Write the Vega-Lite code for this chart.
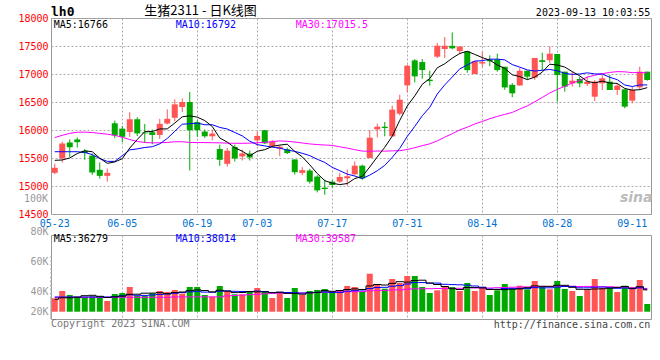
{
  "$schema": "https://vega.github.io/schema/vega-lite/v6.json",
  "autosize": {"type": "pad"},
  "padding": {"left": 17, "top": 4, "right": 10, "bottom": 31},
  "background": "#ffffff",
  "config": {
    "view": {"stroke": "#999999", "strokeWidth": 1},
    "axis": {"labelFont": "DejaVu Sans Mono", "labelFontSize": 10, "labelOverlap": false},
    "text": {"font": "DejaVu Sans Mono", "fontSize": 10}
  },
  "datasets": {
    "k": [
      {"d":"05-23","o":15235,"h":15397,"l":15211,"c":15325,"v":33400,"m5":15458,"m10":15612,"m30":15865,"vm5":32400,"vm10":34700,"vm30":34400},
      {"d":"05-24","o":15494,"h":15795,"l":15421,"c":15759,"v":40700,"m5":15465,"m10":15612,"m30":15905,"vm5":33900,"vm10":34700,"vm30":34400},
      {"d":"05-25","o":15777,"h":15831,"l":15518,"c":15692,"v":36700,"m5":15500,"m10":15612,"m30":15940,"vm5":33900,"vm10":34700,"vm30":34400},
      {"d":"05-26","o":15831,"h":15867,"l":15686,"c":15783,"v":34700,"m5":15580,"m10":15612,"m30":15960,"vm5":34500,"vm10":34700,"vm30":34400},
      {"d":"05-29","o":15628,"h":15658,"l":15468,"c":15587,"v":34700,"m5":15629,"m10":15600,"m30":15962,"vm5":36000,"vm10":34700,"vm30":34400},
      {"d":"05-30","o":15542,"h":15578,"l":15199,"c":15241,"v":35400,"m5":15612,"m10":15560,"m30":15955,"vm5":36400,"vm10":34700,"vm30":34400},
      {"d":"05-31","o":15289,"h":15421,"l":15132,"c":15181,"v":35400,"m5":15497,"m10":15490,"m30":15940,"vm5":35400,"vm10":34700,"vm30":34400},
      {"d":"06-01","o":15181,"h":15313,"l":15078,"c":15235,"v":30700,"m5":15405,"m10":15440,"m30":15925,"vm5":34200,"vm10":34700,"vm30":34400},
      {"d":"06-02","o":16120,"h":16168,"l":15855,"c":15903,"v":37700,"m5":15429,"m10":15440,"m30":15905,"vm5":34800,"vm10":35000,"vm30":34400},
      {"d":"06-05","o":16024,"h":16072,"l":15783,"c":15879,"v":38700,"m5":15488,"m10":15540,"m30":15870,"vm5":35600,"vm10":35800,"vm30":34400},
      {"d":"06-06","o":15963,"h":16318,"l":15879,"c":16192,"v":44700,"m5":15678,"m10":15645,"m30":15830,"vm5":37400,"vm10":36900,"vm30":34400},
      {"d":"06-07","o":16192,"h":16228,"l":15891,"c":15939,"v":35700,"m5":15830,"m10":15663,"m30":15795,"vm5":37500,"vm10":36400,"vm30":34400},
      {"d":"06-08","o":15954,"h":16108,"l":15770,"c":15940,"v":35700,"m5":15971,"m10":15688,"m30":15778,"vm5":38500,"vm10":36300,"vm30":34400},
      {"d":"06-09","o":15960,"h":16008,"l":15744,"c":15912,"v":38400,"m5":15972,"m10":15701,"m30":15770,"vm5":38600,"vm10":36700,"vm30":34400},
      {"d":"06-12","o":15912,"h":16200,"l":15840,"c":16110,"v":40700,"m5":16019,"m10":15753,"m30":15772,"vm5":39000,"vm10":37300,"vm30":34400},
      {"d":"06-13","o":16116,"h":16368,"l":16100,"c":16200,"v":39700,"m5":16020,"m10":15849,"m30":15778,"vm5":38000,"vm10":37700,"vm30":34400},
      {"d":"06-14","o":16218,"h":16548,"l":16158,"c":16458,"v":41700,"m5":16124,"m10":15977,"m30":15790,"vm5":39200,"vm10":38400,"vm30":34800},
      {"d":"06-15","o":16410,"h":16560,"l":16320,"c":16500,"v":38000,"m5":16236,"m10":16103,"m30":15790,"vm5":39700,"vm10":39100,"vm30":34800},
      {"d":"06-16","o":16500,"h":16680,"l":15276,"c":15996,"v":44700,"m5":16253,"m10":16113,"m30":15778,"vm5":41000,"vm10":39800,"vm30":34800},
      {"d":"06-19","o":16140,"h":16176,"l":15876,"c":15996,"v":44700,"m5":16230,"m10":16124,"m30":15776,"vm5":41800,"vm10":40400,"vm30":34800},
      {"d":"06-20","o":15972,"h":16008,"l":15858,"c":15888,"v":36700,"m5":16168,"m10":16094,"m30":15775,"vm5":41200,"vm10":39600,"vm30":34800},
      {"d":"06-21","o":15888,"h":16008,"l":15816,"c":15936,"v":35000,"m5":16063,"m10":16094,"m30":15773,"vm5":39800,"vm10":39500,"vm30":34800},
      {"d":"06-26","o":15660,"h":15738,"l":15360,"c":15468,"v":45700,"m5":15857,"m10":16046,"m30":15770,"vm5":41400,"vm10":40500,"vm30":34800},
      {"d":"06-27","o":15396,"h":15678,"l":15348,"c":15630,"v":40700,"m5":15784,"m10":16018,"m30":15765,"vm5":40600,"vm10":40800,"vm30":35800},
      {"d":"06-28","o":15696,"h":15738,"l":15438,"c":15492,"v":37400,"m5":15683,"m10":15956,"m30":15762,"vm5":39100,"vm10":40400,"vm30":36200},
      {"d":"06-29","o":15528,"h":15648,"l":15456,"c":15582,"v":37400,"m5":15622,"m10":15895,"m30":15762,"vm5":39200,"vm10":40200,"vm30":36600},
      {"d":"06-30","o":15580,"h":15633,"l":15455,"c":15509,"v":39700,"m5":15536,"m10":15800,"m30":15765,"vm5":40200,"vm10":40000,"vm30":37000},
      {"d":"07-03","o":15816,"h":15966,"l":15714,"c":15894,"v":43700,"m5":15621,"m10":15739,"m30":15772,"vm5":39800,"vm10":40600,"vm30":37400},
      {"d":"07-04","o":15996,"h":16000,"l":15750,"c":15762,"v":40700,"m5":15648,"m10":15716,"m30":15780,"vm5":39800,"vm10":40200,"vm30":37900},
      {"d":"07-05","o":15714,"h":15822,"l":15684,"c":15786,"v":33700,"m5":15707,"m10":15695,"m30":15792,"vm5":39000,"vm10":39100,"vm30":38400},
      {"d":"07-06","o":15666,"h":15726,"l":15534,"c":15702,"v":39700,"m5":15731,"m10":15676,"m30":15805,"vm5":39500,"vm10":39400,"vm30":38600},
      {"d":"07-07","o":15654,"h":15684,"l":15570,"c":15588,"v":33700,"m5":15746,"m10":15641,"m30":15799,"vm5":38300,"vm10":39200,"vm30":38400},
      {"d":"07-10","o":15474,"h":15474,"l":15204,"c":15246,"v":43700,"m5":15617,"m10":15619,"m30":15785,"vm5":38300,"vm10":39000,"vm30":38600},
      {"d":"07-11","o":15234,"h":15336,"l":15192,"c":15282,"v":36700,"m5":15521,"m10":15584,"m30":15768,"vm5":37500,"vm10":38600,"vm30":38700},
      {"d":"07-12","o":15276,"h":15306,"l":15042,"c":15078,"v":40700,"m5":15379,"m10":15543,"m30":15751,"vm5":38900,"vm10":39000,"vm30":38900},
      {"d":"07-13","o":15168,"h":15192,"l":14886,"c":14922,"v":41700,"m5":15223,"m10":15477,"m30":15740,"vm5":39300,"vm10":39400,"vm30":39100},
      {"d":"07-14","o":14970,"h":15114,"l":14844,"c":14946,"v":42700,"m5":15095,"m10":15421,"m30":15732,"vm5":41100,"vm10":39700,"vm30":39400},
      {"d":"07-17","o":15078,"h":15102,"l":14970,"c":15018,"v":40000,"m5":15049,"m10":15333,"m30":15725,"vm5":40400,"vm10":39300,"vm30":39700},
      {"d":"07-18","o":15078,"h":15234,"l":15054,"c":15162,"v":40700,"m5":15025,"m10":15273,"m30":15700,"vm5":41200,"vm10":39300,"vm30":39800},
      {"d":"07-19","o":15138,"h":15294,"l":15006,"c":15174,"v":45700,"m5":15044,"m10":15212,"m30":15677,"vm5":42200,"vm10":40500,"vm30":40000},
      {"d":"07-20","o":15208,"h":15440,"l":15190,"c":15363,"v":44700,"m5":15133,"m10":15178,"m30":15649,"vm5":42800,"vm10":41000,"vm30":40000},
      {"d":"07-21","o":15363,"h":15381,"l":15113,"c":15137,"v":40000,"m5":15171,"m10":15133,"m30":15623,"vm5":42200,"vm10":41700,"vm30":40100},
      {"d":"07-24","o":15500,"h":16000,"l":15500,"c":15863,"v":58000,"m5":15340,"m10":15195,"m30":15620,"vm5":45800,"vm10":43100,"vm30":40900},
      {"d":"07-25","o":16011,"h":16113,"l":15869,"c":16059,"v":47700,"m5":15519,"m10":15272,"m30":15625,"vm5":47200,"vm10":44200,"vm30":41200},
      {"d":"07-26","o":16059,"h":16142,"l":15887,"c":16035,"v":43000,"m5":15691,"m10":15368,"m30":15622,"vm5":46700,"vm10":44400,"vm30":41300},
      {"d":"07-27","o":15887,"h":16434,"l":15887,"c":16363,"v":52700,"m5":15891,"m10":15512,"m30":15628,"vm5":48300,"vm10":45500,"vm30":41700},
      {"d":"07-28","o":16291,"h":16630,"l":16261,"c":16541,"v":48700,"m5":16172,"m10":15672,"m30":15631,"vm5":50000,"vm10":46100,"vm30":41900},
      {"d":"07-31","o":16797,"h":17166,"l":16672,"c":17148,"v":55700,"m5":16429,"m10":15885,"m30":15652,"vm5":49600,"vm10":47700,"vm30":42500},
      {"d":"08-01","o":17243,"h":17267,"l":16850,"c":16958,"v":55700,"m5":16609,"m10":16064,"m30":15684,"vm5":51200,"vm10":49200,"vm30":42900},
      {"d":"08-02","o":17213,"h":17267,"l":16916,"c":17071,"v":44700,"m5":16816,"m10":16254,"m30":15720,"vm5":51500,"vm10":49100,"vm30":42900},
      {"d":"08-03","o":16898,"h":17059,"l":16791,"c":16874,"v":38700,"m5":16918,"m10":16405,"m30":15753,"vm5":48700,"vm10":48500,"vm30":43000},
      {"d":"08-04","o":17309,"h":17553,"l":17285,"c":17505,"v":41400,"m5":17111,"m10":16642,"m30":15805,"vm5":47200,"vm10":48600,"vm30":43200},
      {"d":"08-07","o":17446,"h":17660,"l":17285,"c":17505,"v":45700,"m5":17183,"m10":16806,"m30":15873,"vm5":45200,"vm10":47400,"vm30":43200},
      {"d":"08-08","o":17503,"h":17743,"l":17440,"c":17458,"v":44700,"m5":17283,"m10":16946,"m30":15934,"vm5":43000,"vm10":47100,"vm30":43300},
      {"d":"08-09","o":17410,"h":17491,"l":17351,"c":17491,"v":40700,"m5":17367,"m10":17091,"m30":16001,"vm5":42200,"vm10":46900,"vm30":43400},
      {"d":"08-10","o":17404,"h":17404,"l":17023,"c":17070,"v":48700,"m5":17406,"m10":17162,"m30":16050,"vm5":44200,"vm10":46500,"vm30":43800},
      {"d":"08-11","o":17000,"h":17228,"l":17000,"c":17228,"v":40700,"m5":17350,"m10":17231,"m30":16108,"vm5":44100,"vm10":45700,"vm30":43800},
      {"d":"08-14","o":17187,"h":17392,"l":17129,"c":17216,"v":44000,"m5":17293,"m10":17238,"m30":16152,"vm5":43800,"vm10":44500,"vm30":43800},
      {"d":"08-15","o":17257,"h":17333,"l":17140,"c":17228,"v":36700,"m5":17247,"m10":17265,"m30":16201,"vm5":42200,"vm10":42600,"vm30":43700},
      {"d":"08-16","o":17257,"h":17363,"l":17041,"c":17070,"v":41400,"m5":17162,"m10":17265,"m30":16243,"vm5":42300,"vm10":42300,"vm30":44000},
      {"d":"08-17","o":17129,"h":17129,"l":16719,"c":16760,"v":47700,"m5":17100,"m10":17253,"m30":16279,"vm5":42100,"vm10":43200,"vm30":44200},
      {"d":"08-18","o":16807,"h":16836,"l":16585,"c":16655,"v":42400,"m5":16986,"m10":17168,"m30":16314,"vm5":42400,"vm10":43300,"vm30":44500},
      {"d":"08-21","o":16795,"h":17111,"l":16795,"c":17058,"v":46000,"m5":16954,"m10":17123,"m30":16375,"vm5":42800,"vm10":43300,"vm30":44600},
      {"d":"08-22","o":17058,"h":17058,"l":16906,"c":16953,"v":42400,"m5":16899,"m10":17073,"m30":16430,"vm5":44000,"vm10":43100,"vm30":44800},
      {"d":"08-23","o":16936,"h":17287,"l":16895,"c":17287,"v":50700,"m5":16943,"m10":17053,"m30":16504,"vm5":45800,"vm10":44100,"vm30":45100},
      {"d":"08-24","o":17246,"h":17380,"l":17058,"c":17216,"v":45700,"m5":17034,"m10":17067,"m30":16580,"vm5":45400,"vm10":43800,"vm30":45300},
      {"d":"08-25","o":17246,"h":17491,"l":17199,"c":17363,"v":42400,"m5":17175,"m10":17081,"m30":16661,"vm5":45400,"vm10":43900,"vm30":45200},
      {"d":"08-28","o":17357,"h":17357,"l":16506,"c":16982,"v":50700,"m5":17160,"m10":17057,"m30":16726,"vm5":46400,"vm10":44600,"vm30":45600},
      {"d":"08-29","o":17042,"h":17042,"l":16685,"c":16774,"v":42700,"m5":17124,"m10":17012,"m30":16780,"vm5":46400,"vm10":45200,"vm30":45700},
      {"d":"08-30","o":16833,"h":17042,"l":16774,"c":16881,"v":40700,"m5":17043,"m10":16993,"m30":16837,"vm5":44400,"vm10":45100,"vm30":45500},
      {"d":"08-31","o":16911,"h":16952,"l":16762,"c":16833,"v":35700,"m5":16967,"m10":17000,"m30":16886,"vm5":42400,"vm10":43900,"vm30":45200},
      {"d":"09-01","o":16821,"h":16952,"l":16786,"c":16863,"v":41700,"m5":16867,"m10":17021,"m30":16944,"vm5":42300,"vm10":43900,"vm30":45300},
      {"d":"09-04","o":16595,"h":16893,"l":16518,"c":16863,"v":52700,"m5":16843,"m10":17002,"m30":16977,"vm5":42700,"vm10":44500,"vm30":45100},
      {"d":"09-05","o":16833,"h":16982,"l":16714,"c":16923,"v":43700,"m5":16873,"m10":16999,"m30":17006,"vm5":42900,"vm10":44700,"vm30":44900},
      {"d":"09-06","o":16863,"h":16982,"l":16714,"c":16714,"v":43700,"m5":16839,"m10":16941,"m30":17028,"vm5":43500,"vm10":44000,"vm30":45000},
      {"d":"09-07","o":16714,"h":16833,"l":16625,"c":16792,"v":39700,"m5":16831,"m10":16899,"m30":17043,"vm5":44300,"vm10":43400,"vm30":44500},
      {"d":"09-08","o":16726,"h":16726,"l":16387,"c":16417,"v":46000,"m5":16742,"m10":16804,"m30":17039,"vm5":45200,"vm10":43700,"vm30":44400},
      {"d":"09-11","o":16524,"h":16774,"l":16476,"c":16714,"v":43700,"m5":16712,"m10":16777,"m30":17024,"vm5":43400,"vm10":43000,"vm30":44000},
      {"d":"09-12","o":16762,"h":17131,"l":16714,"c":17042,"v":51700,"m5":16720,"m10":16804,"m30":17027,"vm5":45000,"vm10":43900,"vm30":43900},
      {"d":"09-13","o":17042,"h":17042,"l":16881,"c":16893,"v":27700,"m5":16756,"m10":16805,"m30":17021,"vm5":41800,"vm10":42600,"vm30":43300}
    ]
  },
  "spacing": 21,
  "bounds": "flush",
  "vconcat": [
    {
      "width": 600,
      "height": 196,
      "data": {"name": "k"},
      "encoding": {
        "x": {
          "field": "d", "type": "ordinal", "title": null,
          "scale": {"type": "band", "paddingInner": 0, "paddingOuter": 0,
            "domain": ["05-23","05-24","05-25","05-26","05-29","05-30","05-31","06-01","06-02","06-05","06-06","06-07","06-08","06-09","06-12","06-13","06-14","06-15","06-16","06-19","06-20","06-21","06-26","06-27","06-28","06-29","06-30","07-03","07-04","07-05","07-06","07-07","07-10","07-11","07-12","07-13","07-14","07-17","07-18","07-19","07-20","07-21","07-24","07-25","07-26","07-27","07-28","07-31","08-01","08-02","08-03","08-04","08-07","08-08","08-09","08-10","08-11","08-14","08-15","08-16","08-17","08-18","08-21","08-22","08-23","08-24","08-25","08-28","08-29","08-30","08-31","09-01","09-04","09-05","09-06","09-07","09-08","09-11","09-12","09-13"]},
          "axis": {
            "values": ["05-23","06-05","06-19","07-03","07-17","07-31","08-14","08-28","09-11"],
            "title": null, "labelAngle": 0, "labelColor": "#0070d0", "labelPadding": 4,
            "ticks": false, "domain": false, "labelFlush": false, "labelOverlap": false,
            "grid": true, "gridColor": "#aaaaaa", "gridDash": [2, 2], "bandPosition": 0.5,
            "gridOpacity": {"condition": {"test": "datum.value == '05-23' || datum.value == '09-11'", "value": 0}, "value": 1}
          }
        }
      },
      "layer": [
        {
          "mark": {"type": "rule", "strokeWidth": 1},
          "encoding": {
            "y": {"field": "l", "type": "quantitative", "title": null,
              "scale": {"domain": [14500, 18000], "nice": false, "zero": false},
              "axis": {
                "values": [14500, 15000, 15500, 16000, 16500, 17000, 17500, 18000],
                "tickCount": 50,
                "title": null, "ticks": false, "domain": false, "labelPadding": 3,
                "labelFlush": false, "labelOverlap": false, "labelBound": false, "format": "d",
                "labelColor": "#ff0000",
                "grid": true, "gridColor": "#aaaaaa", "gridDash": [2, 2]
              }
            },
            "y2": {"field": "h"},
            "color": {"condition": {"test": "datum.c >= datum.o", "value": "#ff5555"}, "value": "#00a800"}
          }
        },
        {
          "mark": {"type": "bar", "width": 6},
          "encoding": {
            "y": {"field": "o", "type": "quantitative", "title": null},
            "y2": {"field": "c"},
            "color": {"condition": {"test": "datum.c >= datum.o", "value": "#ff5555"}, "value": "#00a800"}
          }
        },
        {"mark": {"type": "line", "color": "#ff00ff", "strokeWidth": 1}, "encoding": {"y": {"field": "m30", "type": "quantitative", "title": null}}},
        {"mark": {"type": "line", "color": "#0000ff", "strokeWidth": 1}, "encoding": {"y": {"field": "m10", "type": "quantitative", "title": null}}},
        {"mark": {"type": "line", "color": "#000000", "strokeWidth": 1}, "encoding": {"y": {"field": "m5", "type": "quantitative", "title": null}}},
        {
          "data": {"values": [{}]},
          "mark": {"type": "text", "text": "100K", "align": "right", "baseline": "middle", "color": "#999999", "dx": -6.75},
          "encoding": {"x": {"datum": "05-23", "type": "ordinal"}, "y": {"datum": 14775, "type": "quantitative"}}
        },
        {
          "data": {"values": [{}]},
          "mark": {"type": "text", "text": "MA5:16766", "align": "left", "baseline": "middle", "color": "#000000", "dx": -1},
          "encoding": {"x": {"datum": "05-23", "type": "ordinal"}, "y": {"datum": 17880, "type": "quantitative"}}
        },
        {
          "data": {"values": [{}]},
          "mark": {"type": "text", "text": "MA10:16792", "align": "left", "baseline": "middle", "color": "#0000ff", "dx": 1},
          "encoding": {"x": {"datum": "06-14", "type": "ordinal"}, "y": {"datum": 17880, "type": "quantitative"}}
        },
        {
          "data": {"values": [{}]},
          "mark": {"type": "text", "text": "MA30:17015.5", "align": "left", "baseline": "middle", "color": "#ff00ff", "dx": 1},
          "encoding": {"x": {"datum": "07-10", "type": "ordinal"}, "y": {"datum": 17880, "type": "quantitative"}}
        },
        {
          "data": {"values": [{}]},
          "mark": {"type": "text", "text": "lh0", "align": "left", "baseline": "alphabetic", "color": "#000000", "dx": -3.75, "font": "DejaVu Sans Mono", "fontSize": 13, "fontWeight": "bold"},
          "encoding": {"x": {"datum": "05-23", "type": "ordinal"}, "y": {"datum": 18030, "type": "quantitative"}}
        },
        {
          "data": {"values": [{}]},
          "mark": {"type": "text", "text": "生猪2311 - 日K线图", "align": "center", "baseline": "middle", "color": "#000000", "dx": 3.25, "font": "Noto Sans CJK SC", "fontSize": 13},
          "encoding": {"x": {"datum": "06-19", "type": "ordinal"}, "y": {"datum": 18130, "type": "quantitative"}}
        },
        {
          "data": {"values": [{}]},
          "mark": {"type": "text", "text": "2023-09-13 10:03:55", "align": "right", "baseline": "middle", "color": "#000000", "dx": 3},
          "encoding": {"x": {"datum": "09-13", "type": "ordinal"}, "y": {"datum": 18096, "type": "quantitative"}}
        },
        {
          "data": {"values": [{}]},
          "mark": {"type": "text", "text": "sina", "align": "center", "baseline": "middle", "color": "#bbbbbb", "dx": 4, "font": "DejaVu Sans", "fontSize": 14, "fontWeight": "bold", "fontStyle": "italic"},
          "encoding": {"x": {"datum": "09-11", "type": "ordinal"}, "y": {"datum": 14790, "type": "quantitative"}}
        }
      ]
    },
    {
      "width": 600,
      "height": 84,
      "data": {"name": "k"},
      "encoding": {
        "x": {
          "field": "d", "type": "ordinal", "title": null,
          "scale": {"type": "band", "paddingInner": 0, "paddingOuter": 0,
            "domain": ["05-23","05-24","05-25","05-26","05-29","05-30","05-31","06-01","06-02","06-05","06-06","06-07","06-08","06-09","06-12","06-13","06-14","06-15","06-16","06-19","06-20","06-21","06-26","06-27","06-28","06-29","06-30","07-03","07-04","07-05","07-06","07-07","07-10","07-11","07-12","07-13","07-14","07-17","07-18","07-19","07-20","07-21","07-24","07-25","07-26","07-27","07-28","07-31","08-01","08-02","08-03","08-04","08-07","08-08","08-09","08-10","08-11","08-14","08-15","08-16","08-17","08-18","08-21","08-22","08-23","08-24","08-25","08-28","08-29","08-30","08-31","09-01","09-04","09-05","09-06","09-07","09-08","09-11","09-12","09-13"]},
          "axis": {
            "values": ["06-05","06-19","07-03","07-17","07-31","08-14","08-28"],
            "title": null, "labels": false, "ticks": false, "domain": false,
            "grid": true, "gridColor": "#aaaaaa", "gridDash": [2, 2], "bandPosition": 0.5
          }
        }
      },
      "layer": [
        {
          "data": {"values": [{}]},
          "mark": {"type": "rule", "color": "#aaaaaa", "strokeWidth": 1, "strokeDash": [2, 2]},
          "encoding": {"y": {"datum": 33700, "type": "quantitative"}}
        },
        {
          "data": {"values": [{}]},
          "mark": {"type": "rule", "color": "#aaaaaa", "strokeWidth": 1, "strokeDash": [2, 2]},
          "encoding": {"y": {"datum": 54700, "type": "quantitative"}}
        },
        {
          "data": {"values": [{}]},
          "mark": {"type": "rule", "color": "#aaaaaa", "strokeWidth": 1, "strokeDash": [2, 2]},
          "encoding": {"y": {"datum": 75700, "type": "quantitative"}}
        },
        {
          "mark": {"type": "bar", "width": 6},
          "encoding": {
            "y": {"field": "v", "type": "quantitative", "title": null,
              "scale": {"domain": [12700, 96700], "nice": false, "zero": false},
              "axis": {
                "values": [20000, 40000, 60000, 80000],
                "tickCount": 50,
                "title": null, "ticks": false, "domain": false, "labelPadding": 3, "grid": false,
                "labelFlush": false, "labelOverlap": false, "labelBound": false, "labelColor": "#999999",
                "labelExpr": "(datum.value / 1000) + 'K'",
                "labelOffset": {"condition": [{"test": "datum.value == 60000", "value": -10}, {"test": "datum.value == 80000", "value": -20}], "value": 0}
              }
            },
            "y2": {"datum": 20000},
            "color": {"condition": {"test": "datum.c >= datum.o", "value": "#ff5555"}, "value": "#00a800"}
          }
        },
        {"mark": {"type": "line", "color": "#ff00ff", "strokeWidth": 1, "interpolate": "step"}, "encoding": {"y": {"field": "vm30", "type": "quantitative", "title": null}}},
        {"mark": {"type": "line", "color": "#0000ff", "strokeWidth": 1, "interpolate": "step"}, "encoding": {"y": {"field": "vm10", "type": "quantitative", "title": null}}},
        {"mark": {"type": "line", "color": "#000000", "strokeWidth": 1, "interpolate": "step"}, "encoding": {"y": {"field": "vm5", "type": "quantitative", "title": null}}},
        {
          "data": {"values": [{}]},
          "mark": {"type": "text", "text": "MA5:36279", "align": "left", "baseline": "middle", "color": "#000000", "dx": -1},
          "encoding": {"x": {"datum": "05-23", "type": "ordinal"}, "y": {"datum": 92400, "type": "quantitative"}}
        },
        {
          "data": {"values": [{}]},
          "mark": {"type": "text", "text": "MA10:38014", "align": "left", "baseline": "middle", "color": "#0000ff", "dx": 1},
          "encoding": {"x": {"datum": "06-14", "type": "ordinal"}, "y": {"datum": 92400, "type": "quantitative"}}
        },
        {
          "data": {"values": [{}]},
          "mark": {"type": "text", "text": "MA30:39587", "align": "left", "baseline": "middle", "color": "#ff00ff", "dx": 1},
          "encoding": {"x": {"datum": "07-10", "type": "ordinal"}, "y": {"datum": 92400, "type": "quantitative"}}
        },
        {
          "data": {"values": [{}]},
          "mark": {"type": "text", "text": "Copyright 2023 SINA.COM", "align": "left", "baseline": "middle", "color": "#777777", "dx": -3.75},
          "encoding": {"x": {"datum": "05-23", "type": "ordinal"}, "y": {"datum": 7700, "type": "quantitative"}}
        },
        {
          "data": {"values": [{}]},
          "mark": {"type": "text", "text": "http://finance.sina.com.cn", "align": "right", "baseline": "middle", "color": "#444444", "dx": 3},
          "encoding": {"x": {"datum": "09-13", "type": "ordinal"}, "y": {"datum": 6700, "type": "quantitative"}}
        }
      ]
    }
  ]
}
